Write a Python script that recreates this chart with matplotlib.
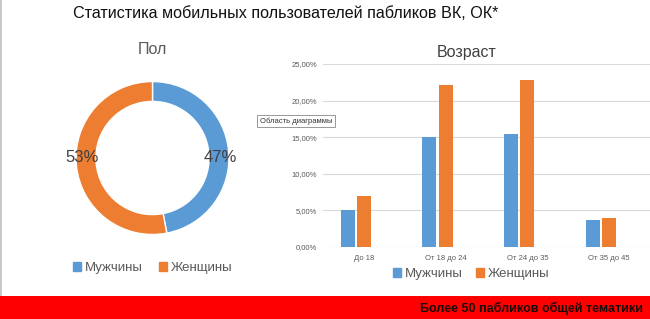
import matplotlib.pyplot as plt
from matplotlib.patches import Rectangle, Patch
from matplotlib.ticker import FuncFormatter

# data
genders = ['Мужчины', 'Женщины']
gender_share = [47, 53]
age_groups = ['До 18', 'От 18 до 24', 'От 24 до 35', 'От 35 до 45']
men = [0.051, 0.150, 0.154, 0.037]
women = [0.070, 0.221, 0.228, 0.039]

blue = '#5b9bd5'
orange = '#ed7d31'
W, H = 650, 319

plt.rcParams['font.family'] = ['Liberation Sans', 'DejaVu Sans']
fig = plt.figure(figsize=(6.5, 3.19), dpi=100)


def px(x0, y_top, w, h):
    return [x0 / W, (H - y_top - h) / H, w / W, h / H]


# left border + title
fig.add_artist(Rectangle((0, 22 / H), 2 / W, 1, transform=fig.transFigure,
                         color='#c8c8c8', lw=0))
fig.text(73 / W, 1 - 13 / H, 'Статистика мобильных пользователей пабликов ВК, ОК*',
         fontsize=11.6, va='center', ha='left', color='#111111')

# donut
ax1 = fig.add_axes(px(74.5, 80, 156, 156))
wedges, _ = ax1.pie(
    gender_share, colors=[blue, orange], startangle=90, counterclock=False,
    radius=1, wedgeprops=dict(width=0.26, edgecolor='white', linewidth=1))
ax1.set_xlim(-1.02, 1.02)
ax1.set_ylim(-1.02, 1.02)
ax1.set_aspect('equal')
fig.text(220.5 / W, 1 - 157 / H, f'{gender_share[0]}%', fontsize=12, color='#404040',
         ha='center', va='center')
fig.text(82.5 / W, 1 - 157 / H, f'{gender_share[1]}%', fontsize=12, color='#404040',
         ha='center', va='center')
fig.text(152 / W, 1 - 50 / H, 'Пол', fontsize=11.5, color='#595959',
         ha='center', va='center')
handles = [Patch(color=blue), Patch(color=orange)]
fig.legend(handles, genders, loc='center', bbox_to_anchor=(153 / W, 1 - 268 / H),
           ncol=2, frameon=False, fontsize=9.5, handlelength=0.6, handleheight=0.6,
           handletextpad=0.3, columnspacing=1.2, labelcolor='#595959')

# bars (a hidden third slot per group, as in the original)
ax2 = fig.add_axes(px(323, 64, 327, 183))
xs = range(len(age_groups))
bw = 0.171
ax2.bar([x - 0.2 for x in xs], men, width=bw, color=blue, zorder=3)
ax2.bar(list(xs), women, width=bw, color=orange, zorder=3)
ax2.set_xlim(-0.5, 3.5)
ax2.set_ylim(0, 0.25)
ax2.set_yticks([0, 0.05, 0.10, 0.15, 0.20, 0.25])
ax2.yaxis.set_major_formatter(FuncFormatter(lambda v, p: f'{v * 100:.2f}%'.replace('.', ',')))
ax2.set_xticks(list(xs))
ax2.set_xticklabels(age_groups)
ax2.tick_params(axis='both', length=0, labelsize=5.5, labelcolor='#595959')
ax2.tick_params(axis='y', pad=4)
ax2.tick_params(axis='x', pad=6)
ax2.grid(axis='y', color='#d9d9d9', lw=0.8, zorder=0)
for s in ax2.spines.values():
    s.set_visible(False)
fig.text(467 / W, 1 - 53 / H, 'Возраст', fontsize=11.5, color='#404040',
         ha='center', va='center')
fig.legend(handles, genders, loc='center', bbox_to_anchor=(471 / W, 1 - 274 / H),
           ncol=2, frameon=False, fontsize=9.5, handlelength=0.6, handleheight=0.6,
           handletextpad=0.3, columnspacing=1.0, labelcolor='#595959')

# tooltip
fig.text(260 / W, 1 - 121 / H, 'Область диаграммы', fontsize=5.5, color='#333333',
         ha='left', va='center',
         bbox=dict(boxstyle='square,pad=0.35', fc='white', ec='#888888', lw=0.6))

# red band
fig.add_artist(Rectangle((0, 0), 1, 23 / H, transform=fig.transFigure,
                         color='#ff0000', lw=0))
fig.text(643 / W, 11 / H, 'Более 50 пабликов общей тематики', fontsize=9,
         fontweight='bold', color='#1a0a0a', ha='right', va='center')

fig.savefig('out.png', dpi=100)
